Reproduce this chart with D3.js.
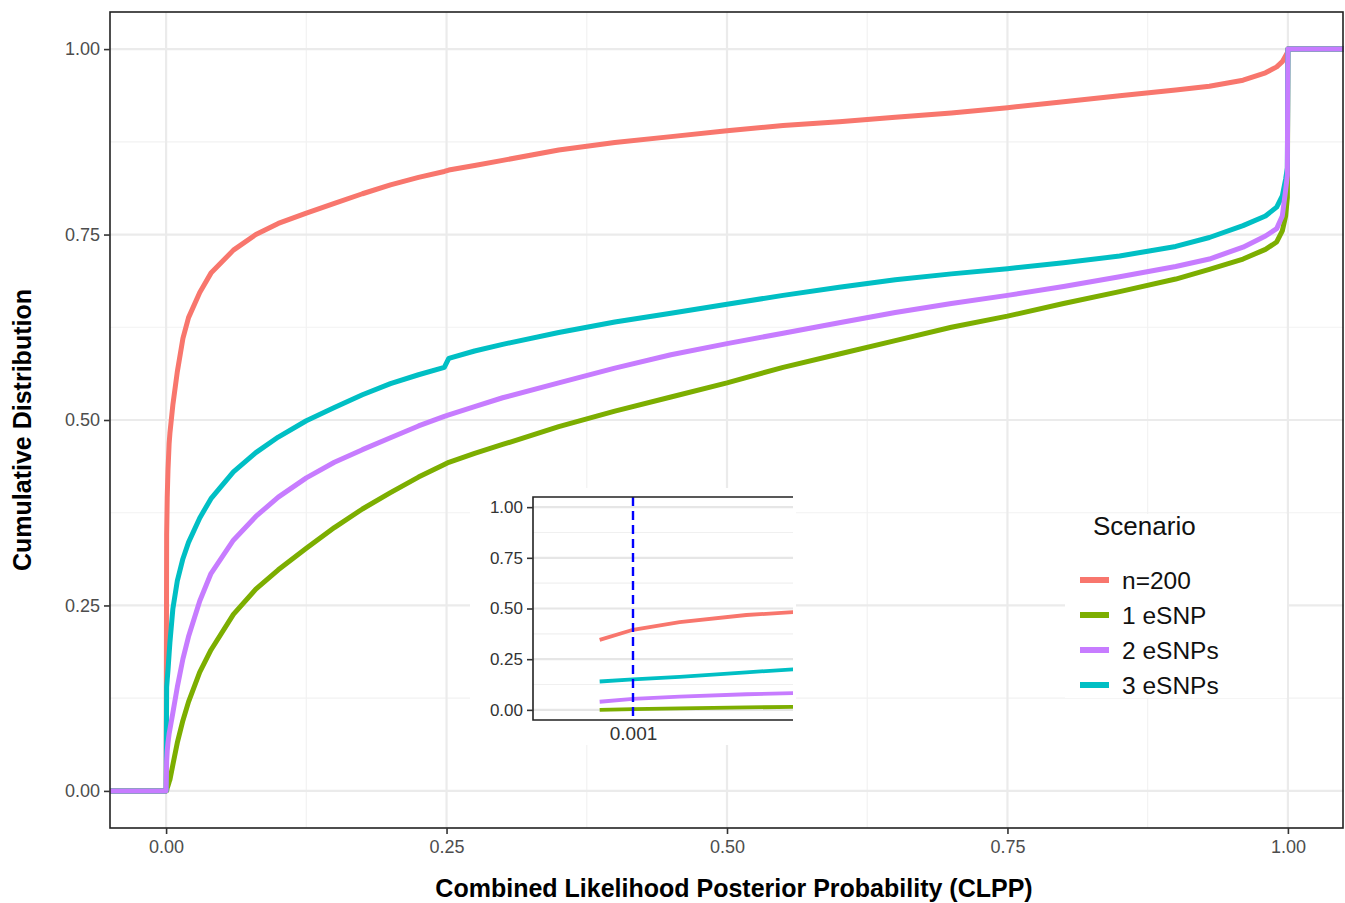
<!DOCTYPE html>
<html>
<head>
<meta charset="utf-8">
<script src="https://cdn.jsdelivr.net/npm/d3@7"></script>
<style>
  body { margin: 0; background: #fff; }
  svg { font-family: "Liberation Sans", Arial, sans-serif; }
</style>
</head>
<body>
<svg id="chart"></svg>
<script>
// CLPP grid shared by every scenario
const clpp = [-0.06, 0, 0.0005, 0.001, 0.0017, 0.0027, 0.0034, 0.006, 0.01, 0.015,
  0.02, 0.03, 0.04, 0.06, 0.08, 0.1, 0.125, 0.15, 0.175, 0.2, 0.225, 0.248, 0.252,
  0.275, 0.3, 0.35, 0.4, 0.45, 0.5, 0.55, 0.6, 0.65, 0.7, 0.75, 0.8, 0.85, 0.9,
  0.93, 0.96, 0.98, 0.99, 0.995, 0.998, 0.9995, 1, 1.06];

// cumulative distribution per scenario, one value per clpp point
const n200 = [0, 0, 0.345, 0.395, 0.433, 0.468, 0.482, 0.52, 0.565, 0.61,
  0.638, 0.672, 0.698, 0.729, 0.75, 0.765, 0.779, 0.792, 0.805, 0.817, 0.827, 0.835, 0.837,
  0.843, 0.85, 0.864, 0.874, 0.882, 0.89, 0.897, 0.902, 0.908, 0.914, 0.921, 0.929, 0.937, 0.945,
  0.95, 0.958, 0.968, 0.976, 0.983, 0.991, 0.995, 1, 1];
const eSNP1 = [0, 0, 0, 0.004, 0.007, 0.012, 0.015, 0.035, 0.065, 0.095,
  0.12, 0.16, 0.19, 0.238, 0.272, 0.298, 0.327, 0.355, 0.38, 0.402, 0.423, 0.44, 0.443,
  0.455, 0.467, 0.491, 0.512, 0.531, 0.55, 0.571, 0.589, 0.607, 0.625, 0.64, 0.657, 0.673, 0.69,
  0.703, 0.717, 0.73, 0.74, 0.755, 0.775, 0.8, 1, 1];
const eSNP2 = [0, 0, 0.04, 0.054, 0.065, 0.077, 0.083, 0.105, 0.14, 0.178,
  0.208, 0.256, 0.293, 0.338, 0.37, 0.396, 0.422, 0.443, 0.46, 0.476, 0.492, 0.505, 0.507,
  0.518, 0.53, 0.55, 0.57, 0.588, 0.603, 0.617, 0.631, 0.645, 0.657, 0.668, 0.68, 0.693, 0.707,
  0.717, 0.733, 0.748, 0.758, 0.775, 0.81, 0.83, 1, 1];
const eSNP3 = [0, 0, 0.14, 0.15, 0.163, 0.185, 0.2, 0.245, 0.283, 0.313,
  0.335, 0.368, 0.394, 0.43, 0.456, 0.477, 0.499, 0.517, 0.534, 0.549, 0.561, 0.571, 0.583,
  0.593, 0.602, 0.618, 0.632, 0.644, 0.656, 0.668, 0.679, 0.689, 0.697, 0.704, 0.712, 0.721, 0.734,
  0.746, 0.762, 0.775, 0.787, 0.802, 0.825, 0.84, 1, 1];

const scenarios = ["n=200", "1 eSNP", "2 eSNPs", "3 eSNPs"];
const scenarioValues = [n200, eSNP1, eSNP2, eSNP3];
const colors = ["#F8766D", "#7CAE00", "#C77CFF", "#00BFC4"];
// draw order: purple last so it sits on top
const drawOrder = [0, 1, 3, 2];

const majorTicks = [0, 0.25, 0.5, 0.75, 1];
const minorTicks = [0.125, 0.375, 0.625, 0.875];
const insetXTicks = [0.001];
const cutoff = 0.001;

const W = 1345, H = 903;
const svg = d3.select("#chart").attr("width", W).attr("height", H);

// Main panel
const x = d3.scaleLinear().domain([-0.05, 1.05]).range([110, 1344]);
const y = d3.scaleLinear().domain([-0.05, 1.05]).range([828, 12]);

const grid = svg.append("g");
grid.selectAll(".vminor").data(minorTicks).join("line")
  .attr("x1", d => x(d)).attr("x2", d => x(d))
  .attr("y1", y.range()[0]).attr("y2", y.range()[1])
  .attr("stroke", "#F2F2F2").attr("stroke-width", 1.2);
grid.selectAll(".hminor").data(minorTicks).join("line")
  .attr("x1", x.range()[0]).attr("x2", x.range()[1])
  .attr("y1", d => y(d)).attr("y2", d => y(d))
  .attr("stroke", "#F2F2F2").attr("stroke-width", 1.2);
grid.selectAll(".vmajor").data(majorTicks).join("line")
  .attr("x1", d => x(d)).attr("x2", d => x(d))
  .attr("y1", y.range()[0]).attr("y2", y.range()[1])
  .attr("stroke", "#EBEBEB").attr("stroke-width", 2.2);
grid.selectAll(".hmajor").data(majorTicks).join("line")
  .attr("x1", x.range()[0]).attr("x2", x.range()[1])
  .attr("y1", d => y(d)).attr("y2", d => y(d))
  .attr("stroke", "#EBEBEB").attr("stroke-width", 2.2);

svg.append("clipPath").attr("id", "mainClip")
  .append("rect").attr("x", 110).attr("y", 12).attr("width", 1234).attr("height", 816);

const line = d3.line().x(d => x(d[0])).y(d => y(d[1]));
svg.append("g").attr("clip-path", "url(#mainClip)")
  .selectAll("path").data(drawOrder).join("path")
  .attr("d", i => line(clpp.map((c, k) => [c, scenarioValues[i][k]])))
  .attr("fill", "none")
  .attr("stroke", i => colors[i])
  .attr("stroke-width", 5)
  .attr("stroke-linejoin", "round");

// panel border
svg.append("rect").attr("x", 110).attr("y", 12).attr("width", 1233).attr("height", 816)
  .attr("fill", "none").attr("stroke", "#222").attr("stroke-width", 1.6);

// axes
const yAxis = svg.append("g").attr("transform", "translate(110,0)")
  .call(d3.axisLeft(y).tickValues(majorTicks).tickFormat(d3.format(".2f")).tickSize(6).tickPadding(4));
const xAxis = svg.append("g").attr("transform", "translate(0,828)")
  .call(d3.axisBottom(x).tickValues(majorTicks).tickFormat(d3.format(".2f")).tickSize(6).tickPadding(6));
[xAxis, yAxis].forEach(a => {
  a.select(".domain").remove();
  a.selectAll(".tick line").attr("stroke", "#333").attr("stroke-width", 1.6);
  a.selectAll(".tick text").attr("fill", "#4D4D4D").style("font-size", "18px")
    .style("font-family", "'Liberation Sans', Arial, sans-serif");
});

// axis titles
svg.append("text").attr("x", 734).attr("y", 897).attr("text-anchor", "middle")
  .style("font-size", "25px").style("font-weight", "bold")
  .text("Combined Likelihood Posterior Probability (CLPP)");
svg.append("text").attr("transform", "translate(31,430) rotate(-90)").attr("text-anchor", "middle")
  .style("font-size", "25px").style("font-weight", "bold")
  .text("Cumulative Distribution");

// Inset: zoom on the low CLPP end
svg.append("rect").attr("x", 470).attr("y", 488).attr("width", 326).attr("height", 257).attr("fill", "#fff");
const ix = d3.scaleLinear().domain([-0.0005, 0.0034]).range([533, 793]);
const iy = d3.scaleLinear().domain([-0.05, 1.05]).range([720, 497]);
const inset = svg.append("g");
inset.selectAll(".iminor").data(minorTicks).join("line")
  .attr("x1", 533).attr("x2", 793).attr("y1", d => iy(d)).attr("y2", d => iy(d))
  .attr("stroke", "#F0F0F0").attr("stroke-width", 1.2);
inset.selectAll(".imajor").data(majorTicks).join("line")
  .attr("x1", 533).attr("x2", 793).attr("y1", d => iy(d)).attr("y2", d => iy(d))
  .attr("stroke", "#E6E6E6").attr("stroke-width", 2.2);

svg.append("clipPath").attr("id", "insetClip")
  .append("rect").attr("x", 533).attr("y", 497).attr("width", 260).attr("height", 223);
const iline = d3.line().x(d => ix(d[0])).y(d => iy(d[1]));
inset.append("g").attr("clip-path", "url(#insetClip)")
  .selectAll("path").data(drawOrder).join("path")
  .attr("d", i => iline(clpp.map((c, k) => [c, scenarioValues[i][k]]).filter(d => d[0] >= 0.0005)))
  .attr("fill", "none")
  .attr("stroke", i => colors[i])
  .attr("stroke-width", 3.8);

// cutoff line
inset.append("line")
  .attr("x1", ix(cutoff)).attr("x2", ix(cutoff)).attr("y1", 497).attr("y2", 720)
  .attr("stroke", "#0000FF").attr("stroke-width", 2.4).attr("stroke-dasharray", "9,5");

// inset frame: top, left, bottom
inset.append("path").attr("d", "M793,497H533V720H793")
  .attr("fill", "none").attr("stroke", "#222").attr("stroke-width", 1.6);

const iyAxis = inset.append("g").attr("transform", "translate(533,0)")
  .call(d3.axisLeft(iy).tickValues(majorTicks).tickFormat(d3.format(".2f")).tickSize(6).tickPadding(4));
const ixAxis = inset.append("g").attr("transform", "translate(0,720)")
  .call(d3.axisBottom(ix).tickValues(insetXTicks).tickFormat(d3.format(".3f")).tickSize(0).tickPadding(7));
[iyAxis, ixAxis].forEach(a => {
  a.select(".domain").remove();
  a.selectAll(".tick line").attr("stroke", "#333").attr("stroke-width", 1.6);
  a.selectAll(".tick text").attr("fill", "#333").style("font-size", "17px")
    .style("font-family", "'Liberation Sans', Arial, sans-serif");
});
ixAxis.selectAll(".tick text").style("font-size", "19px");

// Legend
const legend = svg.append("g");
legend.append("rect").attr("x", 1065).attr("y", 514).attr("width", 222).attr("height", 184).attr("fill", "#fff");
legend.append("text").attr("x", 1093).attr("y", 535).style("font-size", "26px").attr("fill", "#111").text("Scenario");
const item = legend.selectAll(".item").data(scenarios).join("g")
  .attr("transform", (d, i) => `translate(0,${580 + i * 35})`);
item.append("line").attr("x1", 1080).attr("x2", 1109).attr("y1", 0).attr("y2", 0)
  .attr("stroke", (d, i) => colors[i]).attr("stroke-width", 6);
item.append("text").attr("x", 1122).attr("y", 0).attr("dy", "0.35em")
  .style("font-size", "24.5px").attr("fill", "#111").text(d => d);
</script>
</body>
</html>
